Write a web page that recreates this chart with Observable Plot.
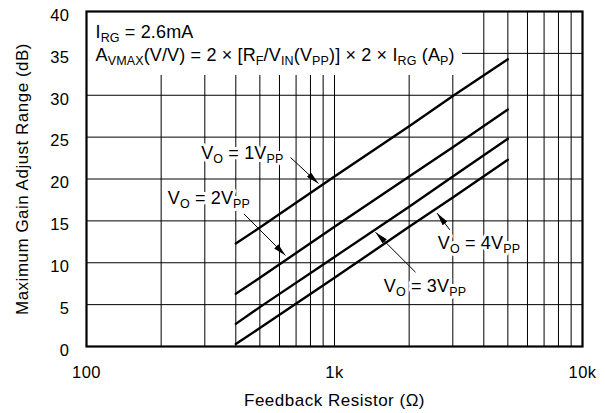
<!DOCTYPE html>
<html><head><meta charset="utf-8">
<script src="https://cdn.jsdelivr.net/npm/d3@7"></script>
<script src="https://cdn.jsdelivr.net/npm/@observablehq/plot@0.6"></script>
<style>body{margin:0;background:#fff}</style>
</head><body><div id="chart"></div>
<script>
// ---- data ----
const resistance = [400, 500, 1000, 2000, 3000, 5000];          // Feedback resistor (Ω)
const gain1Vpp = [12.3, 14.2, 20.3, 26.3, 29.9, 34.3];          // dB
const gain2Vpp = [6.3, 8.2, 14.3, 20.3, 23.8, 28.3];
const gain3Vpp = [2.7, 4.7, 10.7, 16.7, 20.3, 24.8];
const gain4Vpp = [0.3, 2.2, 8.2, 14.3, 17.8, 22.3];
const seriesNames = ["1VPP", "2VPP", "3VPP", "4VPP"];

const xTicks = [100, 1000, 10000];
const xTickLabels = ["100", "1k", "10k"];
const yTicks = [0, 5, 10, 15, 20, 25, 30, 35, 40];
const xGrid = [200, 300, 400, 500, 600, 700, 800, 900, 1000, 2000, 3000, 4000, 5000, 6000, 7000, 8000, 9000];
const yGrid = [5, 10, 15, 20, 25, 30, 35];

// annotations
const noteTexts = ["I_{RG} = 2.6mA", "A_{VMAX}(V/V) = 2 × [R_{F}/V_{IN}(V_{PP})] × 2 × I_{RG} (A_{P})"];
const noteX = [108.7, 108.7];
const noteY = [36.84, 34.03];
const noteBox = [{x1: 100, x2: 3280, y1: 32.36, y2: 40}];

const curveLabels = ["V_{O} = 1V_{PP}", "V_{O} = 2V_{PP}", "V_{O} = 3V_{PP}", "V_{O} = 4V_{PP}"];
const curveLabelX = [290, 212.7, 1581, 2610];
const curveLabelY = [22.33, 17.04, 6.48, 11.67];
const arrowX1 = [664.7, 430.9, 2122, 2917];
const arrowY1 = [22.57, 15.84, 8.87, 13.93];
const arrowX2 = [862, 634.4, 1463, 2594];
const arrowY2 = [19.46, 10.87, 13.65, 15.92];

// ---- tables for the library ----
const rows = [];
[gain1Vpp, gain2Vpp, gain3Vpp, gain4Vpp].forEach((g, i) =>
  g.forEach((v, j) => rows.push({series: seriesNames[i], r: resistance[j], g: v})));
const notes = noteTexts.map((t, i) => ({t, x: noteX[i], y: noteY[i]}));
const labels = curveLabels.map((t, i) => ({t, x: curveLabelX[i], y: curveLabelY[i]}));
const arrows = arrowX1.map((x1, i) => ({x1, y1: arrowY1[i], x2: arrowX2[i], y2: arrowY2[i]}));

const plot = Plot.plot({
  width: 605, height: 413,
  marginLeft: 86, marginRight: 23, marginTop: 11, marginBottom: 67,
  style: {fontFamily: "Liberation Sans, Arial, sans-serif", fontSize: "16.5px", background: "white", color: "black", letterSpacing: "0.5px"},
  x: {type: "log", domain: [100, 10000]},
  y: {domain: [0, 40]},
  marks: [
    Plot.ruleX(xGrid, {stroke: "black", strokeWidth: 1}),
    Plot.ruleY(yGrid, {stroke: "black", strokeWidth: 1}),
    Plot.rect(noteBox, {x1: "x1", x2: "x2", y1: "y1", y2: "y2", fill: "white"}),
    Plot.line(rows, {x: "r", y: "g", z: "series", stroke: "black", strokeWidth: 2.4}),
    Plot.text(labels, {x: "x", y: "y", text: "t", textAnchor: "start", lineAnchor: "bottom",
      fontSize: 18, fill: "black", stroke: "white", strokeWidth: 6}),
    Plot.text(notes, {x: "x", y: "y", text: "t", textAnchor: "start", lineAnchor: "bottom",
      fontSize: 18, fill: "black"}),
    Plot.link(arrows, {x1: "x1", y1: "y1", x2: "x2", y2: "y2", stroke: "black", strokeWidth: 1}),
    Plot.frame({stroke: "black", strokeWidth: 2.2}),
    Plot.axisX({ticks: xTicks, tickFormat: d => xTickLabels[xTicks.indexOf(d)], tickSize: 0, tickPadding: 20,
      label: "Feedback Resistor (Ω)", labelAnchor: "center", labelOffset: 59, labelArrow: "none"}),
    Plot.axisY({ticks: yTicks, tickSize: 0, tickPadding: 17, dy: 4,
      label: "Maximum Gain Adjust Range (dB)", labelAnchor: "center", labelOffset: 71, labelArrow: "none"})
  ]
});

// ---- post-processing: subscripts, arrowheads, axis label size ----
const NS = "http://www.w3.org/2000/svg";
plot.querySelectorAll("text").forEach(t => {
  const s = t.textContent;
  if (!s.includes("_{")) return;
  while (t.firstChild) t.removeChild(t.firstChild);
  const parts = s.split(/(_\{[^}]*\})/).filter(p => p.length);
  let shifted = false;
  parts.forEach(p => {
    const ts = document.createElementNS(NS, "tspan");
    const sub = p.startsWith("_{");
    ts.textContent = sub ? p.slice(2, -1) : p;
    if (sub) { ts.setAttribute("font-size", "12.5"); if (!shifted) ts.setAttribute("dy", "4"); }
    else if (shifted) ts.setAttribute("dy", "-4");
    shifted = sub;
    t.appendChild(ts);
  });
  t.setAttribute("letter-spacing", "0.15");
});
const defs = document.createElementNS(NS, "defs");
defs.innerHTML = '<marker id="ah" viewBox="0 0 13 6" refX="13" refY="3" markerWidth="13" markerHeight="6" markerUnits="userSpaceOnUse" orient="auto" preserveAspectRatio="none"><path d="M0,0L13,3L0,6z" fill="black"/></marker>';
plot.insertBefore(defs, plot.firstChild);
plot.querySelectorAll('g[aria-label="link"] path').forEach(p => p.setAttribute("marker-end", "url(#ah)"));
plot.querySelectorAll('g[aria-label="x-axis label"], g[aria-label="y-axis label"]').forEach(g => g.setAttribute("font-size", "17"));

document.getElementById("chart").appendChild(plot);
</script>
</body></html>
